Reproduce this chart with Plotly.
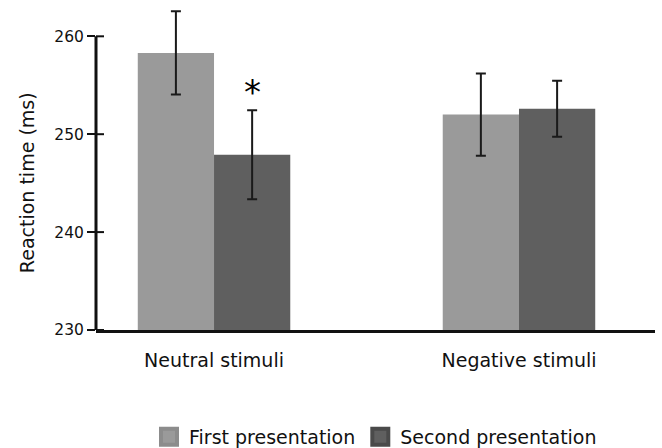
import plotly.graph_objects as go

categories = ["Neutral stimuli", "Negative stimuli"]
series_names = ["First presentation", "Second presentation"]
first_values = [258.3, 252.0]
first_errors = [4.25, 4.2]
second_values = [247.9, 252.6]
second_errors = [4.55, 2.85]
y_ticks = [230, 240, 250, 260]
significance_labels = ["*", ""]

bar_colors = ["#9a9a9a", "#5f5f5f"]
legend_line_colors = ["#8c8c8c", "#4a4a4a"]
font_family = "DejaVu Sans, Verdana, sans-serif"
text_color = "#111111"
bargap = 0.5

fig = go.Figure()
for name, vals, errs, col in [
    (series_names[0], first_values, first_errors, bar_colors[0]),
    (series_names[1], second_values, second_errors, bar_colors[1]),
]:
    fig.add_trace(go.Bar(
        x=categories, y=vals, name=name, showlegend=False,
        marker=dict(color=col, line=dict(width=0)),
        error_y=dict(type="data", array=errs, visible=True,
                     color="#1a1a1a", thickness=2, width=5),
    ))

# legend proxies (larger squares than bar legend symbols)
for name, col, lcol in zip(series_names, bar_colors, legend_line_colors):
    fig.add_trace(go.Scatter(
        x=[None], y=[None], mode="markers", name=name,
        marker=dict(symbol="square", size=16, color=col,
                    line=dict(color=lcol, width=4)),
    ))

# significance asterisks above second-presentation bars
offset = (1 - bargap) / 4
for i, lab in enumerate(significance_labels):
    if lab:
        fig.add_annotation(
            x=i + offset, y=second_values[i] + second_errors[i],
            xref="x", yref="y", text=lab, showarrow=False,
            font=dict(size=34, color="#000000", family=font_family),
            yanchor="middle", yshift=18,
        )

# y axis title centred on the visible axis span
fig.add_annotation(
    x=0, xref="paper", xshift=-69, xanchor="center",
    y=(y_ticks[0] + y_ticks[-1]) / 2, yref="y",
    text="Reaction time (ms)", textangle=-90, showarrow=False,
    font=dict(size=19, color=text_color, family=font_family),
)

# y axis line spanning the tick range, and inward halves of ticks
fig.add_shape(type="line", xref="paper", yref="y", x0=0, x1=0,
              y0=y_ticks[0], y1=y_ticks[-1],
              line=dict(color="#111111", width=3))
for t in y_ticks:
    fig.add_shape(type="line", xref="paper", yref="y", xsizemode="pixel",
                  xanchor=0, x0=0, x1=8, y0=t, y1=t,
                  line=dict(color="#111111", width=2))

fig.update_layout(
    width=662, height=448,
    margin=dict(l=96, r=7, t=4, b=118),
    paper_bgcolor="white", plot_bgcolor="white",
    barmode="group", bargap=bargap, bargroupgap=0,
    font=dict(family=font_family, color=text_color, size=19),
    legend=dict(orientation="h", xref="paper", x=0.5, xanchor="center",
                yref="container", y=0.025, yanchor="middle",
                font=dict(size=19, color=text_color, family=font_family),
                itemclick=False),
    xaxis=dict(range=[-0.387, 1.446], showgrid=False, zeroline=False,
               showline=True, linecolor="#111111", linewidth=2.5,
               ticks="", tickfont=dict(size=19), ticklabelstandoff=11),
    yaxis=dict(range=[230, 263.3], tickvals=y_ticks, showgrid=False,
               zeroline=False, showline=False, ticks="outside", ticklen=8,
               tickwidth=2, tickcolor="#111111", tickfont=dict(size=15.5)),
)

fig.write_html("out.html")
